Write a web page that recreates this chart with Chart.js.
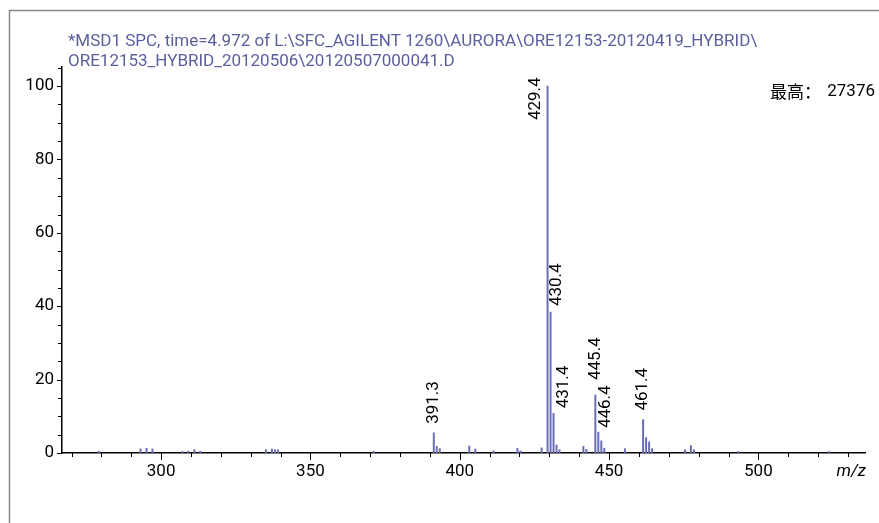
<!DOCTYPE html>
<html>
<head>
<meta charset="utf-8">
<script src="https://cdn.jsdelivr.net/npm/chart.js@4"></script>
<style>
  body { margin: 0; background: #fff; }
  #wrap { width: 879px; height: 523px; }
</style>
</head>
<body>
<div id="wrap"><canvas id="msChart"></canvas></div>
<script>
// Spectrum data (m/z, relative abundance %)
const mz = [279.1, 293.1, 295.1, 297.1, 307.1, 309.1, 311.1, 313.1,
  335.1, 337.1, 338.1, 339.1, 371.1,
  391.3, 392.3, 393.3, 403.2, 405.2, 411.3, 419.3, 420.3,
  427.4, 429.4, 430.4, 431.4, 432.4, 433.4,
  441.4, 442.4, 445.4, 446.4, 447.4, 448.4, 455.3,
  461.4, 462.4, 463.4, 464.4, 475.4, 477.4, 478.4, 493.3, 523.5];
const abundance = [0.5, 1.1, 1.3, 1.1, 0.4, 0.5, 0.9, 0.5,
  0.9, 1.1, 0.9, 0.9, 0.5,
  5.5, 1.8, 1.2, 1.9, 1.1, 0.6, 1.3, 0.6,
  1.4, 100, 38.4, 10.8, 2.2, 0.9,
  1.8, 1.0, 15.8, 5.7, 3.3, 1.3, 1.2,
  9.1, 4.2, 3.0, 1.2, 0.9, 2.0, 0.9, 0.4, 0.4];
const peakLabels = [391.3, 429.4, 430.4, 431.4, 445.4, 446.4, 461.4];
const xTickLabels = [300, 350, 400, 450, 500];
const yTickLabels = [0, 20, 40, 60, 80, 100];

const titleLines = [
  "*MSD1 SPC, time=4.972 of L:\\SFC_AGILENT 1260\\AURORA\\ORE12153-20120419_HYBRID\\",
  "ORE12153_HYBRID_20120506\\20120507000041.D"
];
const maxLabel = "最高：";
const maxValue = "27376";

// nudges for the peak labels so they don't collide
const labelNudge = {
  "391.3": { dx: 0, gap: 9 },
  "429.4": { dx: -12, gap: -34 },
  "430.4": { dx: 6, gap: 6 },
  "431.4": { dx: 10, gap: 5 },
  "445.4": { dx: 0, gap: 15 },
  "446.4": { dx: 7, gap: 4 },
  "461.4": { dx: 0, gap: 9 }
};

const FONT = "Roboto, 'Noto Sans', sans-serif";

const decorPlugin = {
  id: "decor",
  afterDraw(chart) {
    const ctx = chart.ctx;
    const xs = chart.scales.x;
    const ys = chart.scales.y;
    const area = chart.chartArea;
    ctx.save();

    // outer frame
    ctx.strokeStyle = "#8a8a8a";
    ctx.lineWidth = 1.5;
    ctx.strokeRect(9.5, 10.5, 900, 600);

    // title
    ctx.fillStyle = "#5b5f9e";
    ctx.font = "17px " + FONT;
    ctx.textAlign = "left";
    ctx.textBaseline = "middle";
    ctx.fillText(titleLines[0], 68, 42);
    ctx.fillText(titleLines[1], 68, 62);

    // max abundance
    ctx.fillStyle = "#000";
    ctx.font = "17px 'Noto Sans CJK SC', " + FONT;
    ctx.textAlign = "left";
    ctx.fillText(maxLabel, 770, 92);
    ctx.font = "17px " + FONT;
    ctx.textAlign = "right";
    ctx.fillText(maxValue, 875, 92);

    // tick marks
    ctx.strokeStyle = "#000";
    ctx.lineWidth = 1;
    ctx.beginPath();
    for (let v = 270; v <= 530; v += 10) {
      const px = Math.round(xs.getPixelForValue(v)) + 0.5;
      const len = v % 50 === 0 ? 7 : 4;
      ctx.moveTo(px, area.bottom);
      ctx.lineTo(px, area.bottom + len);
    }
    for (let v = 0; v <= 105; v += 5) {
      const py = Math.round(ys.getPixelForValue(v)) + 0.5;
      const len = v % 20 === 0 ? 5 : 4;
      ctx.moveTo(area.left, py);
      ctx.lineTo(area.left - len, py);
    }
    ctx.stroke();

    // axis title
    ctx.font = "italic 17px " + FONT;
    ctx.textAlign = "right";
    ctx.textBaseline = "middle";
    ctx.fillText("m/z", 866, 472);

    // peak labels
    ctx.font = "17px " + FONT;
    ctx.textAlign = "left";
    ctx.textBaseline = "middle";
    peakLabels.forEach((m) => {
      const i = mz.indexOf(m);
      const px = xs.getPixelForValue(mz[i]);
      const py = ys.getPixelForValue(abundance[i]);
      const n = labelNudge[m.toFixed(1)];
      ctx.save();
      ctx.translate(px + n.dx, py - n.gap);
      ctx.rotate(-Math.PI / 2);
      ctx.fillText(m.toFixed(1), 0, 0);
      ctx.restore();
    });

    ctx.restore();
  }
};

const ctx = document.getElementById("msChart").getContext("2d");
const msChart = new Chart(ctx, {
  type: "bar",
  data: {
    datasets: [
      {
        data: mz.map((m, i) => ({ x: m, y: abundance[i] })),
        backgroundColor: "#686cb2",
        borderWidth: 0,
        barThickness: 1.3,
      },
    ],
  },
  options: {
    responsive: true,
    maintainAspectRatio: false,
    animation: false,
    layout: { padding: { top: 67, right: 14, left: 0, bottom: 0 } },
    plugins: {
      legend: { display: false },
      tooltip: { enabled: false },
    },
    scales: {
      x: {
        type: "linear",
        offset: false,
        min: 266.8,
        max: 535.7,
        grid: { display: false, drawTicks: false, offset: false },
        border: { display: true, color: "#000", width: 1.5 },
        afterBuildTicks: (s) => { s.ticks = xTickLabels.map((v) => ({ value: v })); },
        afterFit: (s) => { s.height = 70; },
        ticks: {
          padding: 9,
          color: "#000",
          font: { family: FONT, size: 17 },
          maxRotation: 0,
        },
      },
      y: {
        min: 0,
        max: 105.2,
        grid: { display: false, drawTicks: false },
        border: { display: true, color: "#000", width: 1.5 },
        afterBuildTicks: (s) => { s.ticks = yTickLabels.map((v) => ({ value: v })); },
        afterFit: (s) => { s.width = 62; },
        ticks: {
          padding: 8,
          color: "#000",
          font: { family: FONT, size: 17 },
        },
      },
    },
  },
  plugins: [decorPlugin],
});
</script>
</body>
</html>
